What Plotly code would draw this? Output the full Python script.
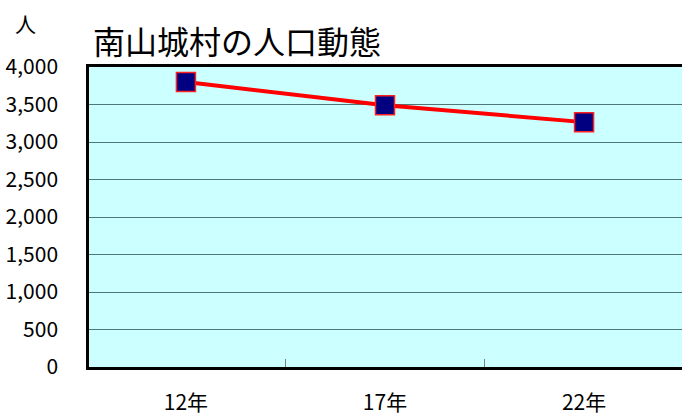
import plotly.graph_objects as go

categories = ["12年", "17年", "22年"]
population = [3800, 3490, 3265]
y_ticks = [0, 500, 1000, 1500, 2000, 2500, 3000, 3500, 4000]

W, H = 682, 417
FONT = "Noto Sans CJK JP"

fig = go.Figure()
fig.add_trace(go.Scatter(
    x=categories, y=population, mode="lines+markers",
    line=dict(color="#ff0000", width=4),
    marker=dict(symbol="square", size=19, color="#000080",
                line=dict(color="#ff2020", width=1.5)),
    showlegend=False, cliponaxis=False,
))

fig.update_layout(
    width=W, height=H,
    margin=dict(l=89, r=0, t=67, b=50, autoexpand=False),
    paper_bgcolor="white", plot_bgcolor="#ccffff",
    font=dict(family=FONT, color="black"),
    title=dict(text="南山城村の人口動態", font=dict(size=32, family=FONT, color="black"),
               xref="container", yref="container", x=93 / W, xanchor="left",
               y=1 - 43 / H, yanchor="middle"),
    annotations=[dict(text="人", xref="paper", yref="paper",
                      x=-76 / 593, y=1 + 44 / 300, xanchor="left", yanchor="middle",
                      showarrow=False, font=dict(size=21, family=FONT))],
)
fig.update_xaxes(
    type="category", categoryorder="array", categoryarray=categories,
    range=[-0.487, 2.492], tickson="boundaries",
    ticks="inside", ticklen=8, tickcolor="#808080", tickwidth=1,
    showline=True, linecolor="black", linewidth=2.5, mirror=True,
    showgrid=False, tickfont=dict(size=21, family=FONT),
    ticklabelstandoff=15, automargin=False,
)
fig.update_yaxes(
    range=[0, 4000], tickvals=y_ticks, tickformat=",",
    showline=True, linecolor="black", linewidth=2.5, mirror=False,
    showgrid=True, gridcolor="#4f7777", gridwidth=1,
    ticks="", tickfont=dict(size=21, family=FONT),
    ticklabelstandoff=24, zeroline=False, automargin=False,
)

fig.write_html("out.html")
